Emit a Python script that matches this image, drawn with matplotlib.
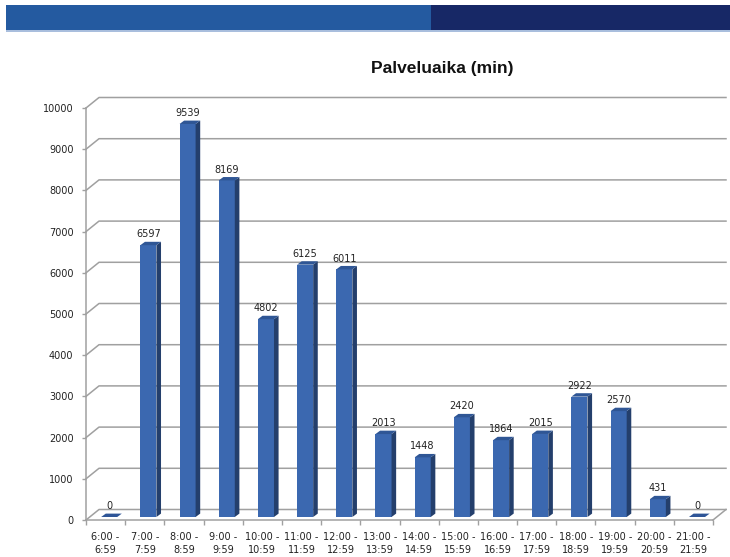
import numpy as np
import matplotlib
matplotlib.use("Agg")
import matplotlib.pyplot as plt
from matplotlib.patches import Rectangle, Polygon
from matplotlib.lines import Line2D

plt.rcParams["font.family"] = ["DejaVu Sans"]

# data
hour_labels = ["6:00 -\n6:59", "7:00 -\n7:59", "8:00 -\n8:59", "9:00 -\n9:59",
               "10:00 -\n10:59", "11:00 -\n11:59", "12:00 -\n12:59", "13:00 -\n13:59",
               "14:00 -\n14:59", "15:00 -\n15:59", "16:00 -\n16:59", "17:00 -\n17:59",
               "18:00 -\n18:59", "19:00 -\n19:59", "20:00 -\n20:59", "21:00 -\n21:59"]
minutes = [0, 6597, 9539, 8169, 4802, 6125, 6011, 2013, 1448, 2420, 1864, 2015, 2922, 2570, 431, 0]
y_ticks = list(range(0, 10001, 1000))

W, H = 730, 557
fig = plt.figure(figsize=(W / 100, H / 100), dpi=100)
fig.patch.set_facecolor("white")

# header band
def fig_rect(x0, y0, x1, y1, color):
    fig.add_artist(Rectangle((x0 / W, 1 - y1 / H), (x1 - x0) / W, (y1 - y0) / H,
                             transform=fig.transFigure, color=color, lw=0))

fig_rect(6, 5, 431, 30, "#245AA0")
fig_rect(431, 5, 730, 30, "#172866")
fig_rect(6, 30, 730, 31.5, "#A9BEDD")

# plot area (front plane) in pixels
left, right, bottom, top = 86, 713, 520, 108
ax = fig.add_axes([left / W, 1 - bottom / H, (right - left) / W, (bottom - top) / H])
n = len(minutes)
ax.set_xlim(-0.5, n - 0.5)
ax.set_ylim(0, 10000)
ax.patch.set_alpha(0)

ppx = (right - left) / n        # pixels per category
ppy = (bottom - top) / 10000    # pixels per minute

# wall depth
wdx, wdy = 13 / ppx, 10.5 / ppy
grid_c = "#A0A0A0"
for t in y_ticks:
    ax.add_line(Line2D([-0.5, -0.5 + wdx, n - 0.5 + wdx], [t, t + wdy, t + wdy],
                       color=grid_c, lw=1.1, zorder=1, clip_on=False))
ax.add_line(Line2D([n - 0.5, n - 0.5 + wdx], [0, wdy], color=grid_c, lw=1.1,
                   zorder=1, clip_on=False))

# 3D bars
bw = 0.41
ox, oy = 3.6 / ppx, 3.0 / ppy
sx, sy = 4.6 / ppx, 3.4 / ppy
front_c, side_c, top_c = "#3B68B0", "#243F6C", "#2F5695"

x = np.arange(n)
ax.bar(x + ox, minutes, width=bw, bottom=oy, color=front_c, zorder=3, lw=0)
for i, v in enumerate(minutes):
    x0, x1 = i + ox - bw / 2, i + ox + bw / 2
    yb, yt = oy, v + oy
    if v > 0:
        ax.add_patch(Polygon([(x1, yb), (x1 + sx, yb + sy), (x1 + sx, yt + sy), (x1, yt)],
                             closed=True, color=side_c, lw=0, zorder=3))
    ax.add_patch(Polygon([(x0, yt), (x1, yt), (x1 + sx, yt + sy), (x0 + sx, yt + sy)],
                         closed=True, color=top_c if v > 0 else "#2E5597", lw=0, zorder=4))
    ax.annotate(str(v), (i + ox, yt + sy), xytext=(0, 3.2), textcoords="offset points",
                ha="center", va="baseline", fontsize=7, color="#222222", zorder=5)

# axes styling
for s in ["top", "right"]:
    ax.spines[s].set_visible(False)
for s in ["left", "bottom"]:
    ax.spines[s].set_color(grid_c)
    ax.spines[s].set_linewidth(1.1)

ax.set_yticks(y_ticks)
ax.set_yticklabels([str(t) for t in y_ticks], fontsize=7, color="#222222")
ax.tick_params(axis="y", length=3, width=1, color=grid_c, pad=6)

ax.set_xticks(np.arange(-0.5, n, 1.0))
ax.set_xticklabels([])
ax.tick_params(axis="x", which="major", length=3.6, width=1, color=grid_c)
ax.set_xticks(x, minor=True)
ax.set_xticklabels(hour_labels, minor=True, fontsize=7, color="#222222", linespacing=1.45)
ax.tick_params(axis="x", which="minor", length=0, pad=8.5)

fig.text(442 / W, 1 - 68 / H, "Palveluaika (min)", ha="center", va="center",
         fontsize=12.5, fontweight="bold", family="Liberation Sans", color="#111111")

fig.savefig("out.png", dpi=100)
